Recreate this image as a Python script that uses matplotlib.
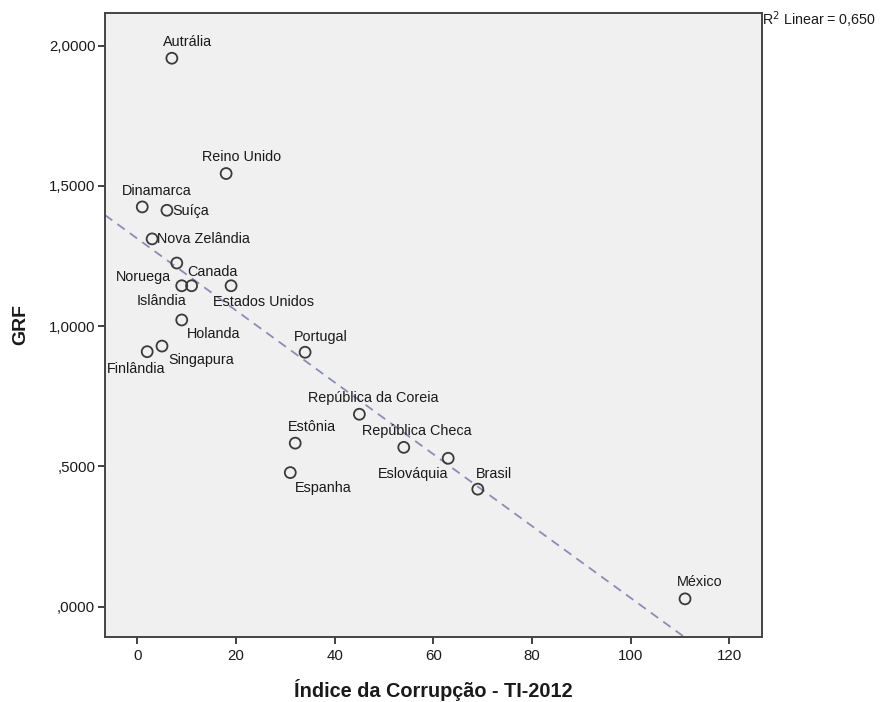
import numpy as np
import matplotlib
matplotlib.use("Agg")
import matplotlib.pyplot as plt

plt.rcParams["font.family"] = ["Liberation Sans", "DejaVu Sans"]

# GRF versus corruption index (TI-2012) by country
paises = ["Autrália", "Reino Unido", "Dinamarca", "Suíça", "Nova Zelândia",
          "Noruega", "Canada", "Islândia", "Estados Unidos", "Holanda",
          "Singapura", "Finlândia", "Portugal", "República da Coreia", "Estônia",
          "República Checa", "Eslováquia", "Espanha", "Brasil", "México"]
indice_corrupcao = [7, 18, 1, 6, 3,
                    8, 9, 11, 19, 9,
                    5, 2, 34, 45, 32,
                    54, 63, 31, 69, 111]
grf = [1.955, 1.544, 1.425, 1.413, 1.311,
       1.225, 1.144, 1.144, 1.144, 1.022,
       0.929, 0.909, 0.907, 0.686, 0.583,
       0.568, 0.529, 0.478, 0.419, 0.028]

x_ticks = [0, 20, 40, 60, 80, 100, 120]
y_ticks = [0.0, 0.5, 1.0, 1.5, 2.0]
y_tick_labels = [",0000", ",5000", "1,0000", "1,5000", "2,0000"]
r2_text = "R$^2$ Linear = 0,650"

W, H = 887, 702
fig = plt.figure(figsize=(W / 100, H / 100), dpi=100)
fig.patch.set_facecolor("white")
ax = fig.add_axes([105 / W, 1 - 637 / H, (762 - 105) / W, (637 - 12.5) / H])
ax.set_facecolor("#f0f0f0")

xmin, xmax = -6.55, 126.6
ax.set_xlim(xmin, xmax)
ax.set_ylim(-0.108, 2.118)

# least-squares fit line
x = np.asarray(indice_corrupcao, dtype=float)
y = np.asarray(grf, dtype=float)
b, a = np.polyfit(x, y, 1)
xl = np.array([xmin, xmax])
ax.plot(xl, a + b * xl, color="#8a8cb8", lw=1.3, dashes=(5, 3.5), zorder=2)

ax.scatter(x, y, s=62, facecolors="none", edgecolors="#3a3a3a",
           linewidths=1.3, zorder=3)

# label placement: (dx px, dy px downward, alignment)
offsets = {
    "Autrália": (-8.7, -16.3, "left"),
    "Reino Unido": (-24.3, -16.4, "left"),
    "Dinamarca": (-20, -16.3, "left"),
    "Suíça": (5.3, 0.7, "left"),
    "Nova Zelândia": (5, 0, "left"),
    "Noruega": (-5.3, 14.3, "right"),
    "Canada": (5.7, -13.4, "left"),
    "Islândia": (-5.7, 15.3, "right"),
    "Estados Unidos": (-17.7, 16.6, "left"),
    "Holanda": (5.6, 14.3, "left"),
    "Singapura": (6.6, 14, "left"),
    "Finlândia": (18, 17, "right"),
    "Portugal": (-11.4, -15.6, "left"),
    "República da Coreia": (-51, -16, "left"),
    "Estônia": (-7.6, -16.6, "left"),
    "República Checa": (-41.4, -16.3, "left"),
    "Eslováquia": (0, 15.7, "right"),
    "Espanha": (5, 15.6, "left"),
    "Brasil": (-2.3, -15.3, "left"),
    "México": (-8, -17.3, "left"),
}
for nome, xi, yi in zip(paises, x, y):
    dx, dy, ha = offsets[nome]
    ax.annotate(nome, (xi, yi), xytext=(dx, -dy), textcoords="offset pixels",
                ha=ha, va="center", fontsize=10.4, color="#1a1a1a", zorder=4)

ax.set_xticks(x_ticks)
ax.set_yticks(y_ticks)
ax.set_yticklabels(y_tick_labels)
ax.tick_params(axis="both", direction="out", length=5, width=1.3,
               color="#333333", labelsize=10.8, labelcolor="#1a1a1a", pad=2)
ax.tick_params(axis="x", pad=4)
for s in ax.spines.values():
    s.set_color("#444444")
    s.set_linewidth(1.4)

ax.set_xlabel("Índice da Corrupção - TI-2012", fontsize=14.3, fontweight="bold",
              color="#1a1a1a", labelpad=11)
ax.set_ylabel("GRF", fontsize=14, fontweight="bold", color="#1a1a1a", labelpad=14)

fig.text(762 / W, 1 - 20 / H, r2_text, ha="left", va="center",
         fontsize=10.3, color="#1a1a1a")

fig.savefig("out.png", dpi=100)
